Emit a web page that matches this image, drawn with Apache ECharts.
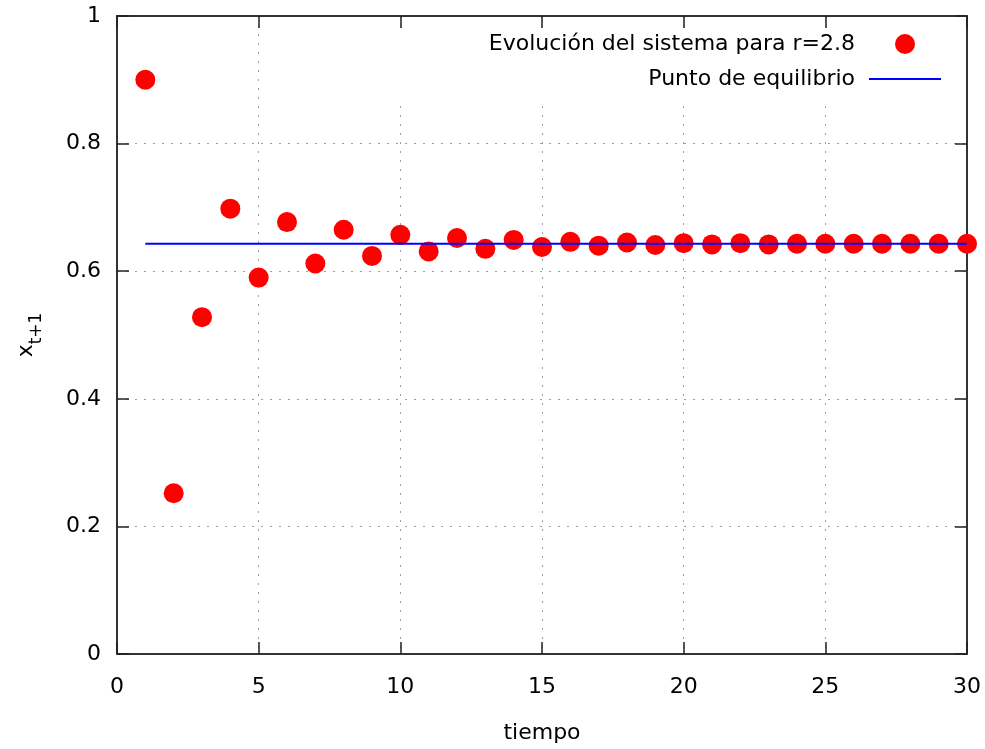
<!DOCTYPE html>
<html>
<head>
<meta charset="utf-8">
<script src="https://cdn.jsdelivr.net/npm/echarts@6/dist/echarts.min.js"></script>
<style>
  html, body { margin: 0; padding: 0; background: #fff; }
  #chart { width: 985px; height: 749px; }
</style>
</head>
<body>
<div id="chart"></div>
<script>
// datos
const tiempo = [1, 2, 3, 4, 5, 6, 7, 8, 9, 10, 11, 12, 13, 14, 15,
  16, 17, 18, 19, 20, 21, 22, 23, 24, 25, 26, 27, 28, 29, 30]
const evolucion = [0.900, 0.252, 0.528, 0.698, 0.590, 0.677, 0.612, 0.665, 0.624, 0.657,
  0.631, 0.652, 0.635, 0.649, 0.638, 0.646, 0.640, 0.645, 0.641, 0.644,
  0.642, 0.644, 0.642, 0.643, 0.643, 0.643, 0.643, 0.643, 0.643, 0.643]
const equilibrioX = [1, 30]
const equilibrio = 0.643
const xTicks = { min: 0, max: 30, interval: 5 }
const yTicks = { min: 0, max: 1, interval: 0.2 }

const serieNombre = 'Evolución del sistema para r=2.8'
const lineaNombre = 'Punto de equilibrio'

const font = 'DejaVu Sans'
const ink = '#000'

const chart = echarts.init(document.getElementById('chart'))

const borde = { show: true, onZero: false, lineStyle: { color: '#333', width: 2 } }
const ticks = { show: true, inside: true, length: 12, lineStyle: { color: '#222', width: 1.5 } }
const rejilla = { show: true, lineStyle: { color: '#a0a0a0', width: 1, type: [2, 7] } }

chart.setOption({
  animation: false,
  backgroundColor: '#fff',
  textStyle: { fontFamily: font, color: ink },
  grid: { left: 117, right: 18, top: 16, bottom: 94 },
  legend: {
    orient: 'vertical',
    align: 'right',
    right: 36,
    top: 29,
    padding: [4, 8, 11, 90],
    backgroundColor: '#fff',
    itemWidth: 72,
    itemHeight: 20,
    itemGap: 13,
    textStyle: { fontFamily: font, fontSize: 22, color: ink, padding: [0, 9, 0, 0] },
    data: [
      { name: serieNombre, icon: 'circle' },
      { name: lineaNombre, icon: 'path://M0,0H72V2H0Z' }
    ]
  },
  xAxis: [
    {
      type: 'value', ...xTicks,
      name: 'tiempo', nameLocation: 'middle', nameGap: 68,
      nameTextStyle: { fontFamily: font, fontSize: 22, color: ink },
      axisLine: borde, axisTick: ticks, splitLine: rejilla,
      axisLabel: { fontFamily: font, fontSize: 22, color: ink, margin: 22 }
    },
    {
      type: 'value', ...xTicks, position: 'top',
      axisLine: borde, axisTick: ticks, splitLine: { show: false },
      axisLabel: { show: false }
    }
  ],
  yAxis: [
    {
      type: 'value', ...yTicks,
      name: '{x|x}{s|t+1}', nameLocation: 'middle', nameGap: 72, nameRotate: 90,
      nameTextStyle: {
        rich: {
          x: { fontFamily: font, fontSize: 22, color: ink, lineHeight: 30, verticalAlign: 'top' },
          s: { fontFamily: font, fontSize: 17, color: ink, lineHeight: 30, verticalAlign: 'bottom', padding: [6, 0, 0, 0] }
        }
      },
      axisLine: borde, axisTick: ticks, splitLine: rejilla,
      axisLabel: { fontFamily: font, fontSize: 22, color: ink, margin: 16 }
    },
    {
      type: 'value', ...yTicks, position: 'right',
      axisLine: borde, axisTick: ticks, splitLine: { show: false },
      axisLabel: { show: false }
    }
  ],
  series: [
    {
      name: serieNombre,
      type: 'scatter',
      symbol: 'circle',
      symbolSize: 20,
      itemStyle: { color: '#ff0000', opacity: 1 },
      data: tiempo.map((t, i) => [t, evolucion[i]]),
      z: 3
    },
    {
      name: lineaNombre,
      type: 'line',
      showSymbol: false,
      symbol: 'none',
      lineStyle: { color: '#0000ff', width: 2 },
      itemStyle: { color: '#0000ff' },
      data: equilibrioX.map(t => [t, equilibrio]),
      z: 4
    }
  ]
})
</script>
</body>
</html>
